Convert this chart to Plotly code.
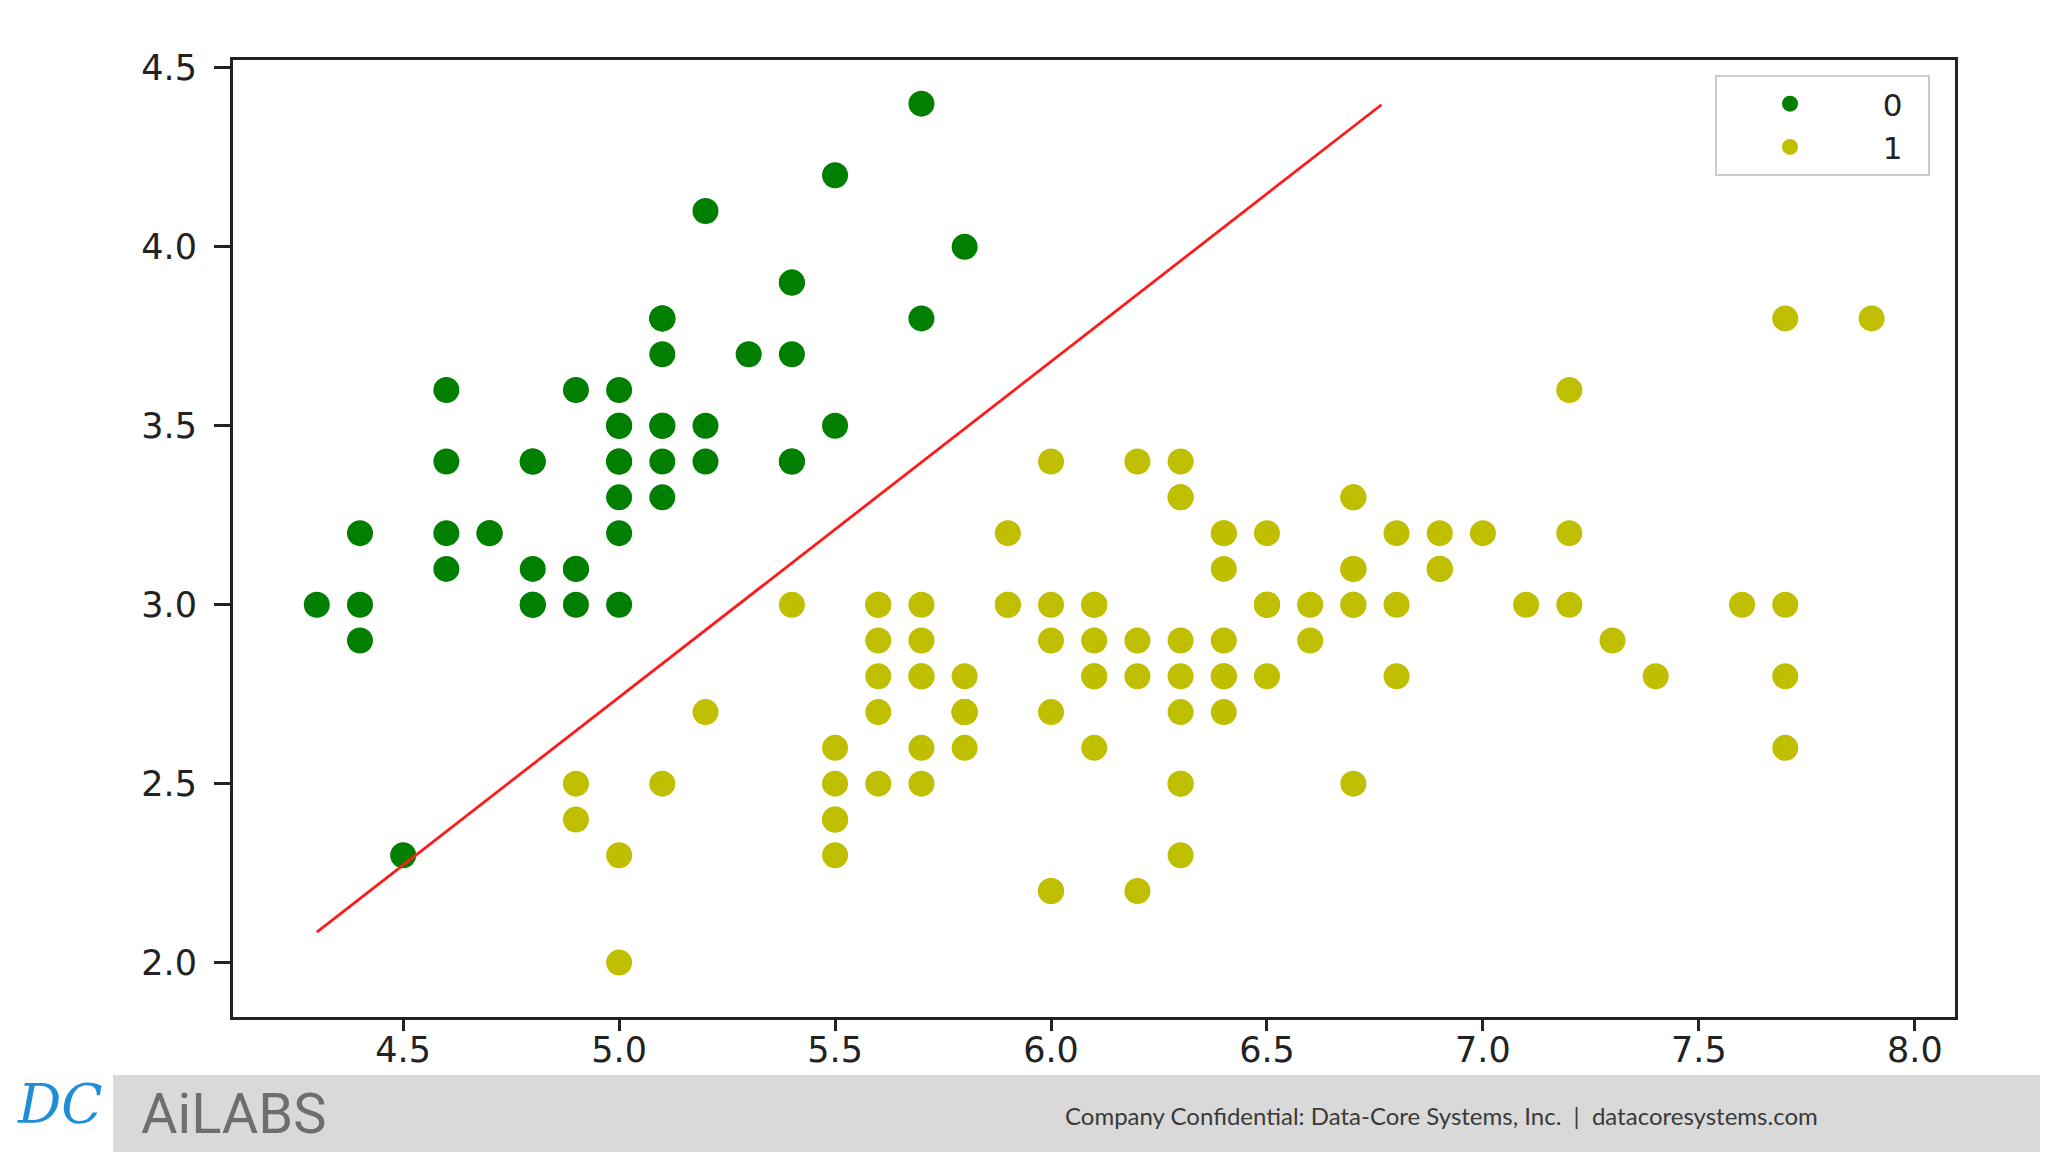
import plotly.graph_objects as go

# Class 0 (setosa): sepal length / sepal width
x0 = [5.1, 4.9, 4.7, 4.6, 5.0, 5.4, 4.6, 5.0, 4.4, 4.9, 5.4, 4.8, 4.8, 4.3, 5.8, 5.7, 5.4, 5.1, 5.7, 5.1,
      5.4, 5.1, 4.6, 5.1, 4.8, 5.0, 5.0, 5.2, 5.2, 4.7, 4.8, 5.4, 5.2, 5.5, 4.9, 5.0, 5.5, 4.9, 4.4, 5.1,
      5.0, 4.5, 4.4, 5.0, 5.1, 4.8, 5.1, 4.6, 5.3, 5.0]
y0 = [3.5, 3.0, 3.2, 3.1, 3.6, 3.9, 3.4, 3.4, 2.9, 3.1, 3.7, 3.4, 3.0, 3.0, 4.0, 4.4, 3.9, 3.5, 3.8, 3.8,
      3.4, 3.7, 3.6, 3.3, 3.4, 3.0, 3.4, 3.5, 3.4, 3.2, 3.1, 3.4, 4.1, 4.2, 3.1, 3.2, 3.5, 3.6, 3.0, 3.4,
      3.5, 2.3, 3.2, 3.5, 3.8, 3.0, 3.8, 3.2, 3.7, 3.3]

# Class 1 (versicolor + virginica)
x1 = [7.0, 6.4, 6.9, 5.5, 6.5, 5.7, 6.3, 4.9, 6.6, 5.2, 5.0, 5.9, 6.0, 6.1, 5.6, 6.7, 5.6, 5.8, 6.2, 5.6,
      5.9, 6.1, 6.3, 6.1, 6.4, 6.6, 6.8, 6.7, 6.0, 5.7, 5.5, 5.5, 5.8, 6.0, 5.4, 6.0, 6.7, 6.3, 5.6, 5.5,
      5.5, 6.1, 5.8, 5.0, 5.6, 5.7, 5.7, 6.2, 5.1, 5.7,
      6.3, 5.8, 7.1, 6.3, 6.5, 7.6, 4.9, 7.3, 6.7, 7.2, 6.5, 6.4, 6.8, 5.7, 5.8, 6.4, 6.5, 7.7, 7.7, 6.0,
      6.9, 5.6, 7.7, 6.3, 6.7, 7.2, 6.2, 6.1, 6.4, 7.2, 7.4, 7.9, 6.4, 6.3, 6.1, 7.7, 6.3, 6.4, 6.0, 6.9,
      6.7, 6.9, 5.8, 6.8, 6.7, 6.7, 6.3, 6.5, 6.2, 5.9]
y1 = [3.2, 3.2, 3.1, 2.3, 2.8, 2.8, 3.3, 2.4, 2.9, 2.7, 2.0, 3.0, 2.2, 2.9, 2.9, 3.1, 3.0, 2.7, 2.2, 2.5,
      3.2, 2.8, 2.5, 2.8, 2.9, 3.0, 2.8, 3.0, 2.9, 2.6, 2.4, 2.4, 2.7, 2.7, 3.0, 3.4, 3.1, 2.3, 3.0, 2.5,
      2.6, 3.0, 2.6, 2.3, 2.7, 3.0, 2.9, 2.9, 2.5, 2.8,
      3.3, 2.7, 3.0, 2.9, 3.0, 3.0, 2.5, 2.9, 2.5, 3.6, 3.2, 2.7, 3.0, 2.5, 2.8, 3.2, 3.0, 3.8, 2.6, 2.2,
      3.2, 2.8, 2.8, 2.7, 3.3, 3.2, 2.8, 3.0, 2.8, 3.0, 2.8, 3.8, 2.8, 2.8, 2.6, 3.0, 3.4, 3.1, 3.0, 3.1,
      3.1, 3.1, 2.7, 3.2, 3.3, 3.0, 2.5, 3.0, 3.4, 3.0]

# Decision boundary endpoints
line_x = [4.3, 6.765]
line_y = [2.085, 4.397]

x_ticks = [4.5, 5.0, 5.5, 6.0, 6.5, 7.0, 7.5, 8.0]
y_ticks = [2.0, 2.5, 3.0, 3.5, 4.0, 4.5]

W, H = 2048, 1152
OFF = 8  # page body margin
L, R, T, B = 233, 1955, 60, 1017  # plot area in page pixels


def px(xpix):
    return (xpix - L) / (R - L)


def py(ypix):
    return (B - ypix) / (B - T)


fig = go.Figure()
fig.add_trace(go.Scatter(x=x0, y=y0, mode="markers", name="\u00a0\u00a00\u00a0\u00a0",
                         marker=dict(color="#007f00", size=26, line=dict(width=0))))
fig.add_trace(go.Scatter(x=x1, y=y1, mode="markers", name="\u00a0\u00a01\u00a0\u00a0",
                         marker=dict(color="#bfbf00", size=26, line=dict(width=0))))
fig.add_trace(go.Scatter(x=line_x, y=line_y, mode="lines", showlegend=False,
                         line=dict(color="#ff1a1a", width=2.8)))

axis_common = dict(showgrid=False, zeroline=False, showline=True, linecolor="#222222",
                   linewidth=3, mirror=True, ticks="outside", tickcolor="#222222",
                   tickwidth=3, tickfont=dict(family="DejaVu Sans", size=35, color="#222222"))

fig.update_xaxes(range=[4.106, 8.093], tickvals=x_ticks,
                 ticktext=[f"{v:.1f}" for v in x_ticks], ticklen=11,
                 ticklabelstandoff=-11, **axis_common)
fig.update_yaxes(range=[1.848, 4.522], tickvals=y_ticks,
                 ticktext=[f"{v:.1f}" for v in y_ticks], ticklen=16,
                 ticklabelstandoff=10, **axis_common)

shapes = [
    dict(type="rect", xref="paper", yref="paper", x0=px(-20), x1=px(W + 20), y0=py(1075), y1=py(H + 30),
         fillcolor="#d9d9d9", line=dict(width=0), layer="above"),
    dict(type="rect", xref="paper", yref="paper", x0=px(-20), x1=px(113), y0=py(1068), y1=py(H + 30),
         fillcolor="#ffffff", line=dict(width=0), layer="above"),
]

annotations = [
    dict(text="Company Confidential: Data-Core Systems, Inc.  |  datacoresystems.com",
         xref="paper", yref="paper", x=px(1063), y=py(1115), xanchor="left", yanchor="middle",
         showarrow=False, font=dict(family="Lato", size=24, color="#3a3a3a")),
    dict(text="AiLABS", xref="paper", yref="paper", x=px(139), y=py(1114),
         xanchor="left", yanchor="middle", showarrow=False,
         font=dict(family="Liberation Sans Narrow, Roboto", size=56, color="#6e6e6e")),
    dict(text="DC", xref="paper", yref="paper", x=px(60), y=py(1104),
         xanchor="center", yanchor="middle", showarrow=False,
         font=dict(family="DejaVu Serif", size=54, color="#1e8ed8", style="italic")),
]

fig.update_layout(
    width=W, height=H,
    margin=dict(l=L - OFF, r=W - (R - OFF), t=T - OFF, b=H - (B - OFF), pad=0),
    plot_bgcolor="white", paper_bgcolor="white",
    shapes=shapes, annotations=annotations,
    legend=dict(x=px(1930), y=py(75), xanchor="right", yanchor="top",
                bgcolor="white", bordercolor="#cccccc", borderwidth=2,
                font=dict(family="DejaVu Sans", size=31, color="#222222"),
                itemwidth=136, tracegroupgap=0),
)

fig.write_html("out.html")
